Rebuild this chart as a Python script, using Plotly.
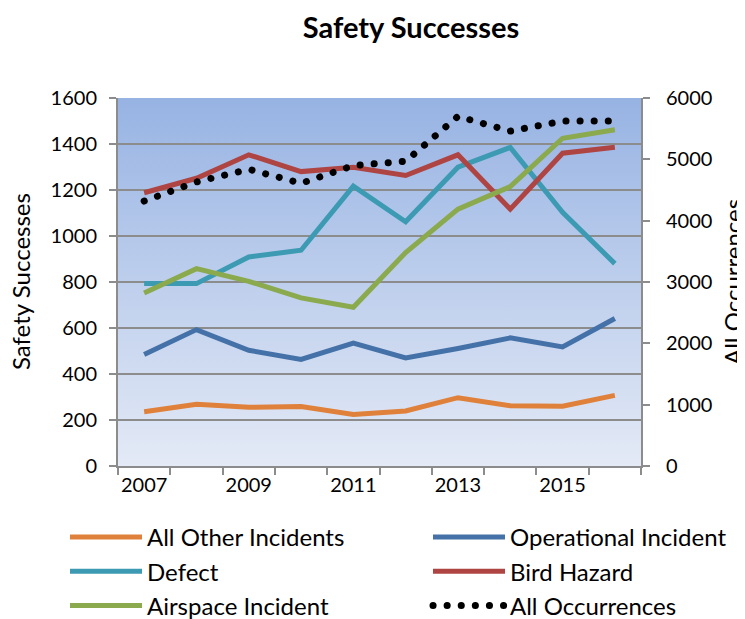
import base64
import plotly.graph_objects as go

years = [2007, 2008, 2009, 2010, 2011, 2012, 2013, 2014, 2015, 2016]
year_labels = ["2007", "2009", "2011", "2013", "2015"]

all_other = [236, 268, 255, 259, 224, 239, 297, 262, 260, 307]
operational = [485, 593, 503, 463, 534, 470, 511, 557, 518, 641]
defect = [793, 793, 909, 938, 1217, 1062, 1299, 1385, 1103, 880]
bird = [1188, 1251, 1353, 1280, 1299, 1263, 1353, 1117, 1360, 1386]
airspace = [752, 858, 803, 731, 690, 928, 1117, 1215, 1425, 1462]
all_occ = [4320, 4631, 4838, 4609, 4898, 4969, 5700, 5460, 5624, 5624]

left_range = [0, 1600]
right_range = [0, 6000]

FONT = "Lato"
AX = "#8C8C8C"
W, H = 745, 619
L, R, T, B = 110, 112, 90, 161
PW = W - L - R

fig = go.Figure()

series = [
    ("All Other Incidents", all_other, "#E0813B", "legend"),
    ("Operational Incident", operational, "#4472A8", "legend2"),
    ("Defect", defect, "#3C9AB2", "legend"),
    ("Bird Hazard", bird, "#AE4543", "legend2"),
    ("Airspace Incident", airspace, "#8BA94D", "legend"),
]
for name, vals, col, lg in series:
    fig.add_trace(go.Scatter(x=years, y=vals, name=name, mode="lines", legend=lg,
                             line=dict(color=col, width=5)))

fig.add_trace(go.Scatter(x=years, y=all_occ, name="All Occurrences", mode="lines",
                         yaxis="y2", legend="legend2",
                         line=dict(color="black", width=7, dash="0.1px,14px")))

svg = ('<svg xmlns="http://www.w3.org/2000/svg" width="10" height="100" viewBox="0 0 10 100" '
       'preserveAspectRatio="none"><defs><linearGradient id="g" x1="0" y1="0" x2="0" y2="1">'
       '<stop offset="0" stop-color="#97B3E3"/><stop offset="1" stop-color="#E4EAF6"/>'
       '</linearGradient></defs><rect width="10" height="100" fill="url(#g)"/></svg>')
src = "data:image/svg+xml;base64," + base64.b64encode(svg.encode()).decode()

minor_vals = [y - 0.5 for y in years] + [years[-1] + 0.5]

legend_common = dict(orientation="v", xref="container", yref="container",
                     xanchor="left", yanchor="top", itemwidth=72,
                     font=dict(family=FONT, size=24, color="black"),
                     bgcolor="rgba(0,0,0,0)")

fig.update_layout(
    width=W, height=H,
    margin=dict(l=L, r=R, t=T, b=B, autoexpand=False),
    paper_bgcolor="white", plot_bgcolor="rgba(0,0,0,0)",
    font=dict(family=FONT, size=20, color="black"),
    title=dict(text="<b>Safety Successes</b>", x=403 / W, xanchor="center", xref="container",
               y=1 - 20 / H, yanchor="middle", yref="container",
               font=dict(family=FONT, size=29, color="black")),
    images=[dict(source=src, xref="paper", yref="paper", x=0, y=1, sizex=1, sizey=1,
                 xanchor="left", yanchor="top", sizing="stretch", layer="below")],
    xaxis=dict(type="linear", range=[years[0] - 0.5, years[-1] + 0.5], tickmode="array",
               tickvals=[int(t) for t in year_labels], ticktext=year_labels,
               ticks="", showgrid=False, zeroline=False, automargin=False,
               showline=True, linecolor=AX, linewidth=2,
               ticklabelstandoff=0,
               minor=dict(tickmode="array", tickvals=minor_vals, ticks="outside",
                          ticklen=7, tickcolor=AX, tickwidth=2, showgrid=False)),
    yaxis=dict(range=left_range, dtick=200, tickmode="linear", tick0=0, automargin=False,
               showgrid=True, gridcolor=AX, gridwidth=1.5, zeroline=False,
               showline=True, linecolor=AX, linewidth=2,
               ticks="outside", ticklen=7, tickcolor=AX, tickwidth=2,
               ticklabelstandoff=8),
    yaxis2=dict(range=right_range, dtick=1000, tickmode="linear", tick0=0, automargin=False,
                overlaying="y", side="right", showgrid=False, zeroline=False,
                showline=True, linecolor=AX, linewidth=2,
                ticks="outside", ticklen=7, tickcolor=AX, tickwidth=2,
                ticklabelstandoff=12),
    annotations=[
        dict(text="Safety Successes", textangle=-90, xref="paper", yref="paper",
             x=(12 - L) / PW, y=0.5, xanchor="center", yanchor="middle", showarrow=False,
             font=dict(family=FONT, size=24, color="black")),
        dict(text="All Occurrences", textangle=-90, xref="paper", yref="paper",
             x=(724 - L) / PW, y=0.5, xanchor="center", yanchor="middle", showarrow=False,
             font=dict(family=FONT, size=24, color="black")),
    ],
    legend=dict(x=57 / W, y=1 - 507 / H, **legend_common),
    legend2=dict(x=420 / W, y=1 - 507 / H, **legend_common),
    showlegend=True,
)

post = """
document.querySelectorAll('path').forEach(function(p){
  var d = p.style.strokeDasharray;
  if (p.style.stroke && p.style.stroke.indexOf('0, 0, 0') >= 0 && d && d !== 'none') {
    p.style.strokeLinecap = 'round';
  }
});
"""

fig.write_html("out.html", post_script=post)
